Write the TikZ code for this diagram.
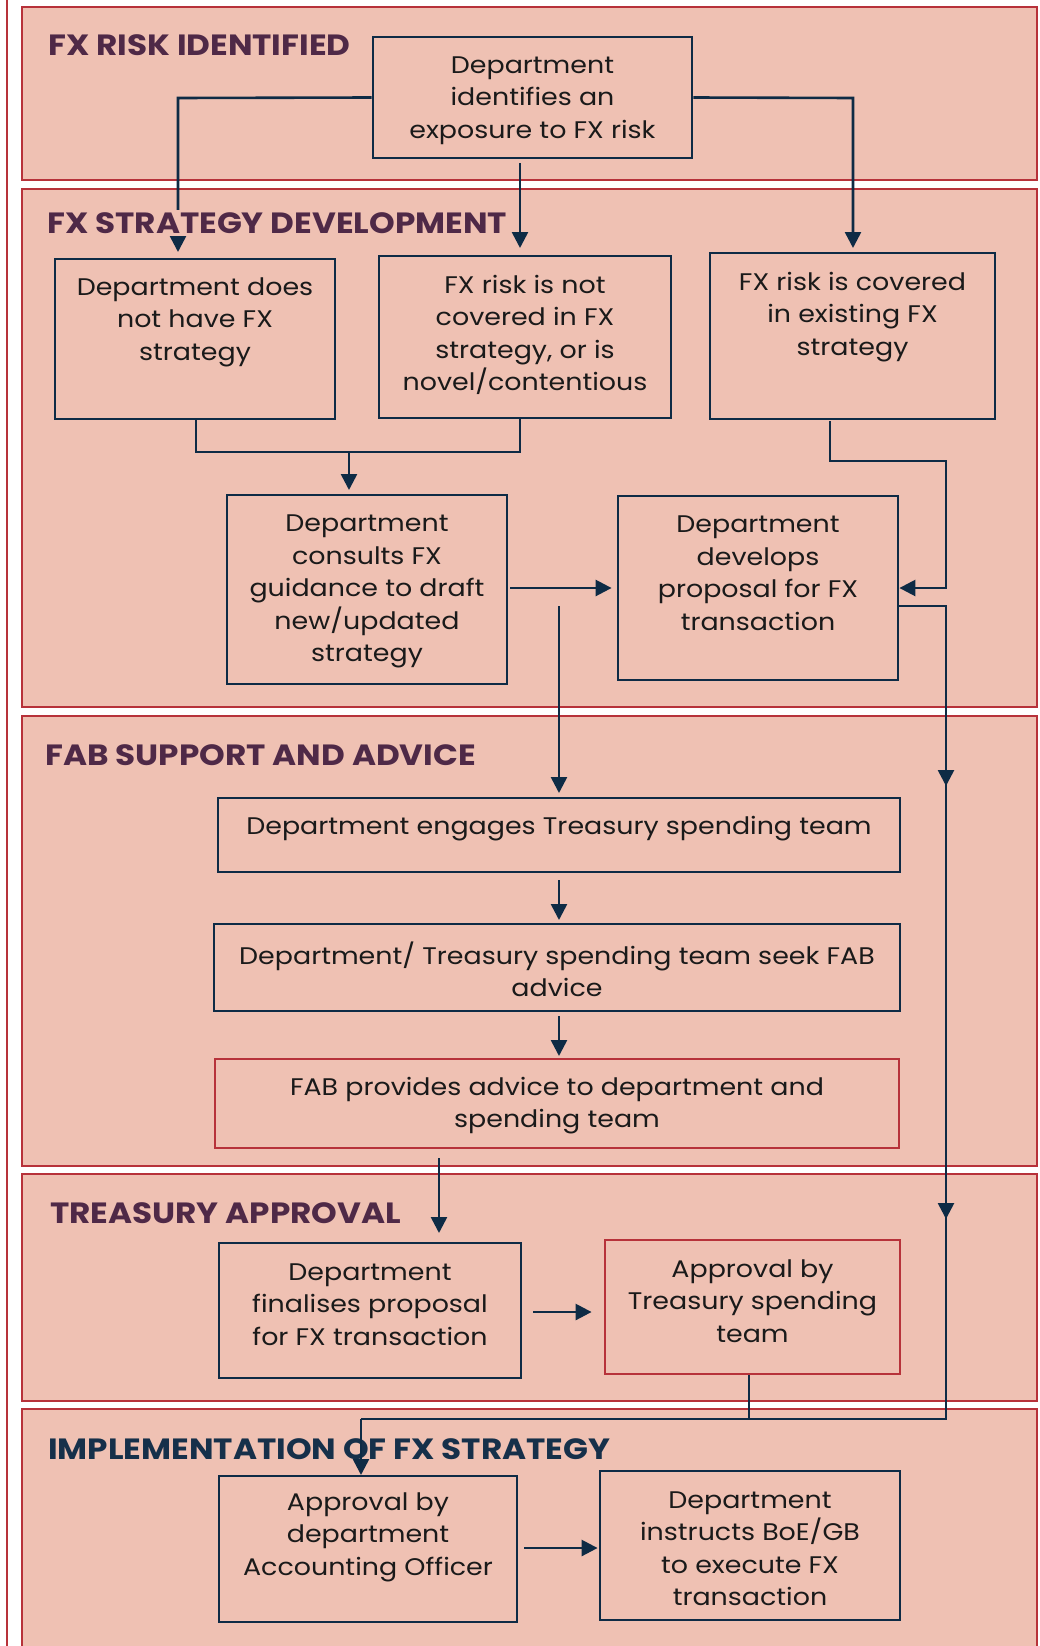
\documentclass[tikz,border=0pt]{standalone}
\usepackage{fontspec}
\setmainfont{Poppins}[FakeStretch=1.12]
\newfontfamily\headfont{Poppins}[FakeStretch=1.115]
\usetikzlibrary{arrows.meta}

\definecolor{bandfill}{HTML}{EFC1B3}
\definecolor{bandline}{HTML}{B7323A}
\definecolor{navy}{HTML}{0E2B45}
\definecolor{headpurple}{HTML}{4F2947}
\definecolor{headnavy}{HTML}{16304A}
\definecolor{bodytext}{HTML}{1A1A1A}

\tikzset{
  band/.style={draw=bandline, fill=bandfill, line width=2.5pt},
  box/.style={draw=navy, line width=2.8pt, rectangle, inner sep=0pt},
  redbox/.style={draw=bandline, line width=2.8pt, rectangle, inner sep=0pt},
  txt/.style={text=bodytext, align=center, inner sep=0pt,
    font=\fontsize{24}{32.5}\selectfont},
  heading/.style={text=headpurple, anchor=base west, inner sep=0pt,
    font=\headfont\fontsize{29.3}{32}\selectfont\bfseries},
  conn/.style={draw=navy, line width=2.6pt},
  arr/.style={conn, -{Triangle[length=16pt,width=16pt]}},
}

\newcommand{\flowbox}[6]{%
  % #1 style, #2 name, #3 left, #4 top, #5 right, #6 bottom
  \node[#1, minimum width={(#5-#3)*1pt}, minimum height={(#6-#4)*1pt}]
    (#2) at ({(#3+#5)/2},{(#4+#6)/2}) {};}

\begin{document}
\begin{tikzpicture}[x=1pt, y=-1pt]
\useasboundingbox (0,0) rectangle (1040,1646);
\fill[white] (0,0) rectangle (1040,1646);

% outer frame line on the left
\draw[bandline, line width=2.5pt] (7,-2) -- (7,1648);

% swim-lane bands
\draw[band] (22,7)    rectangle (1037,180);
\draw[band] (22,189)  rectangle (1037,707);
\draw[band] (22,716)  rectangle (1037,1166);
\draw[band] (22,1174) rectangle (1037,1401);
\draw[band] (22,1409) rectangle (1037,1660);

% process boxes
\flowbox{box}{bA}{373}{37}{692}{158}
\flowbox{box}{bB}{55}{259}{335}{419}
\flowbox{box}{bC}{379}{256}{671}{418}
\flowbox{box}{bD}{710}{253}{995}{419}
\flowbox{box}{bE}{227}{495}{507}{684}
\flowbox{box}{bF}{618}{496}{898}{680}
\flowbox{box}{bH}{218}{798}{900}{872}
\flowbox{box}{bI}{214}{924}{900}{1011}
\flowbox{redbox}{bJ}{215}{1059}{899}{1148}
\flowbox{box}{bK}{219}{1243}{521}{1378}
\flowbox{redbox}{bL}{605}{1240}{900}{1374}
\flowbox{box}{bM}{219}{1476}{517}{1622}
\flowbox{box}{bN}{600}{1471}{900}{1620}

% box texts
\node[txt] (tA) at ([yshift=-3pt]bA.center) {Department\\identifies an\\exposure to FX risk};
\node[txt] (tB) at ([yshift=17pt]bB.center) {Department does\\not have FX\\strategy};
\node[txt] (tC) at ([yshift=2pt]bC.center) {FX risk is not\\covered in FX\\strategy, or is\\novel/contentious};
\node[txt] (tD) at ([yshift=19pt]bD.center) {FX risk is covered\\in existing FX\\strategy};
\node[txt] (tE) at ([yshift=-2pt]bE.center) {Department\\consults FX\\guidance to draft\\new/updated\\strategy};
\node[txt] (tF) at ([yshift=15pt]bF.center) {Department\\develops\\proposal for FX\\transaction};
\node[txt] (tH) at ([yshift=6pt]bH.center) {Department engages Treasury spending team};
\node[txt] (tI) at ([yshift=-2pt]bI.center) {Department/ Treasury spending team seek FAB\\advice};
\node[txt] (tJ) at ([yshift=-2pt]bJ.center) {FAB provides advice to department and\\spending team};
\node[txt] (tK) at ([yshift=6pt]bK.center) {Department\\finalises proposal\\for FX transaction};
\node[txt] (tL) at ([yshift=6pt]bL.center) {Approval by\\Treasury spending\\team};
\node[txt] (tM) at ([yshift=12pt]bM.center) {Approval by\\department\\Accounting Officer};
\node[txt] (tN) at ([yshift=-3pt]bN.center) {Department\\instructs BoE/GB\\to execute FX\\transaction};

% bend points of the connectors
\coordinate (aL)  at (178,98);
\coordinate (aR)  at (853,98);
\coordinate (bcJ) at (349,452);
\coordinate (bL1) at (196,452);
\coordinate (cL1) at (520,452);
\coordinate (dS)  at (830,421);
\coordinate (dB)  at (830,461);
\coordinate (rT)  at (946,461);
\coordinate (rF)  at (946,606);
\coordinate (rM1) at (946,786);
\coordinate (rM2) at (946,1219);
\coordinate (rB)  at (946,1419);
\coordinate (lJ)  at (749,1419);
\coordinate (mT)  at (361,1419);
\coordinate (eH)  at (559,606);
\coordinate (jK)  at (439,1158);

% FX risk identified -> strategy development
\draw[conn] (bA.west) -- (aL) -- (178,230);
\draw[arr] (bA.south -| cL1) ++(0,4) -- (520,248);
\draw[arr] (bA.east) -- (aR) -- (853,248);

% B and C merge into E
\draw[conn] (bB.south -| bL1) -- (bL1) -- (cL1) -- (bC.south -| cL1);
\draw[arr] (bcJ) -- (349,490);

% E -> F, D -> F
\draw[arr, shorten <=2pt, shorten >=5pt] (bE.east |- bF.west) -- (bF.west);
\draw[arr] (dS) -- (dB) -- (rT) -- (946,588) -- (bF.east |- 0,588);

% F -> implementation, down the right side
\draw[conn] (bF.east |- rF) -- (rF) -- (rM2);
\draw[arr] (rF) -- (rM1);
\draw[arr] (rM1) -- (rM2);
\draw[conn] (rM2) -- (rB) -- (mT);
\draw[conn] (bL.south -| lJ) -- (lJ);

% FAB support chain
\draw[arr] (eH) -- (559,793);
\draw[arr] (bH.south -| 559,0) ++(0,7) -- (559,920);
\draw[arr] (bI.south -| 559,0) ++(0,4) -- (559,1056);
\draw[arr] (jK) -- (439,1233);

% treasury approval
\draw[arr, shorten <=11pt, shorten >=12pt] (bK.east |- 0,1312) -- (bL.west |- 0,1312);

% implementation
\draw[arr, shorten <=6pt, shorten >=1pt] (bM.east |- 0,1548) -- (bN.west |- 0,1548);

% lane headings
\node[heading] (hA) at (48,56) {FX RISK IDENTIFIED};
\node[heading, fill=bandfill, inner ysep=2pt] (hB) at (47,233) {FX STRATEGY DEVELOPMENT};
\draw[arr] (178,236) -- (178,252);
\node[heading] (hC) at (45,765) {FAB SUPPORT AND ADVICE};
\node[heading] (hD) at (50,1223) {TREASURY APPROVAL};
\node[heading, text=headnavy] (hE) at (48,1459) {IMPLEMENTATION OF FX STRATEGY};
\draw[arr] (mT) -- (361,1475);

\end{tikzpicture}
\end{document}
